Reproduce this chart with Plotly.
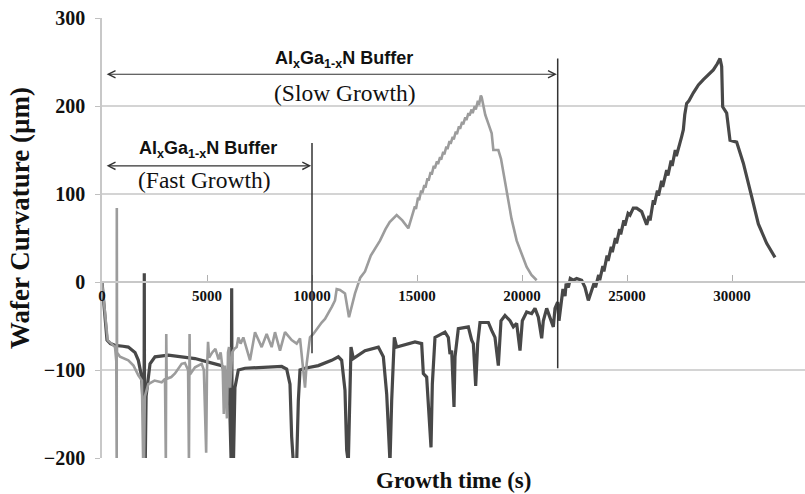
import plotly.graph_objects as go

# ---------------- data ----------------
# Fast-growth run (light grey): growth time (s), wafer curvature (um)
fast_t = [0, 60, 150, 270, 450, 620, 680, 700, 705, 715, 857, 1254, 1500, 1730, 1900, 1960, 2000, 2040,
          2206, 2500, 2841, 3000, 3040, 3060, 3080, 3300, 3476, 3794, 3950, 4100, 4140, 4170, 4190, 4429,
          4746, 4850, 4960, 5000, 5050, 5100, 5250, 5400, 5550, 5650, 5750, 5800, 5850, 5950, 6000, 6050,
          6100, 6200, 6300, 6413, 6492, 6600, 6730, 7048, 7286, 7603, 7841, 8080, 8238, 8476, 8714, 9032,
          9270, 9429, 9587, 9667, 9746, 9905, 10063, 10260, 10460, 10620, 10778, 10950, 11095, 11175, 11333,
          11571, 11762, 12048, 12300, 12524, 12800, 13000, 13238, 13500, 13700, 14032, 14300, 14587, 14800,
          14900, 14950, 15050, 15100, 15200, 15250, 15350, 15400, 15500, 15550, 15650, 15700, 15800, 15850,
          15950, 16000, 16100, 16150, 16250, 16300, 16400, 16450, 16550, 16600, 16700, 16750, 16850, 16900,
          17000, 17050, 17150, 17200, 17300, 17350, 17450, 17500, 17600, 17650, 17750, 17800, 17900, 17950,
          18040, 18079, 18150, 18250, 18397, 18556, 18635, 18873, 19000, 19270, 19500, 19746, 20000, 20222,
          20450, 20698]
fast_v = [0, -15, -40, -66, -70, -74, -90, -205, 84, -80, -85, -89, -95, -106, -112, -205, -205, -130,
          -116, -112, -114, -110, -205, -59, -110, -108, -104, -93, -92, -100, -205, -59, -105, -97,
          -93, -100, -194, -100, -68, -86, -80, -76, -88, -80, -100, -150, -95, -155, -80, -74,
          -120, -80, -76, -74, -63, -70, -63, -89, -57, -74, -59, -74, -57, -78, -57, -66,
          -70, -64, -97, -120, -93, -63, -59, -52, -46, -42, -36, -28, -21, -8, -9,
          -13, -40, -13, 5, 12, 30, 38, 47, 60, 68, 76, 70, 61, 80,
          86, 83, 96, 93, 104, 101, 110, 107, 118, 115, 125, 122, 132, 129,
          137, 134, 142, 139, 148, 145, 154, 151, 160, 157, 165, 162, 171, 168,
          177, 174, 182, 179, 187, 184, 192, 189, 196, 192, 200, 196, 206, 201,
          212, 210, 200, 190, 180, 169, 150, 150, 140, 104, 72, 47, 30, 17,
          8, 2]

# Slow-growth run (dark grey)
slow_t = [0, 60, 150, 238, 400, 619, 1000, 1254, 1571, 1730, 1889, 1980, 2000, 2014, 2030, 2060, 2100,
          2286, 2524, 3159, 3794, 4429, 5063, 5698, 5937, 6080, 6150, 6175, 6200, 6260, 6330, 6492, 6810,
          7762, 8556, 8794, 8952, 9032, 9111, 9270, 9349, 9429, 9667, 10302, 10937, 11254, 11413, 11571,
          11651, 11730, 11810, 11857, 11968, 12524, 13159, 13397, 13556, 13714, 13794, 13921, 14032, 14905,
          15222, 15302, 15460, 15667, 15730, 15857, 16333, 16492, 16571, 16651, 16762, 16810, 16968, 17444,
          17603, 17683, 17794, 17889, 18000, 18397, 18556, 18714, 18873, 19000, 19190, 19429, 19587, 19746,
          19905, 20016, 20222, 20460, 20619, 20778, 20937, 21016, 21175, 21333, 21492, 21571, 21698, 21762,
          21889, 21950, 22050, 22100, 22206, 22300, 22444, 22603, 22841, 23000, 23159, 23317, 23450, 23500,
          23650, 23700, 23850, 23900, 24050, 24100, 24250, 24300, 24450, 24500, 24650, 24700, 24850, 24900,
          25050, 25143, 25300, 25460, 25698, 25937, 26050, 26100, 26254, 26300, 26450, 26500, 26650, 26700,
          26889, 26950, 27100, 27150, 27300, 27350, 27524, 27600, 27683, 27750, 27841, 27950, 28159, 28300,
          28400, 28635, 28800, 29111, 29300, 29429, 29508, 29556, 29746, 29905, 30222, 30540, 30937, 31254,
          31651, 32048]
slow_v = [0, -15, -40, -66, -70, -72, -73, -74, -80, -89, -108, -150, -205, 10, -205, -205, -130,
          -93, -85, -83, -85, -87, -91, -95, -104, -140, -205, -7, -205, -205, -120, -100, -98,
          -97, -96, -99, -116, -176, -205, -205, -135, -100, -98, -95, -89, -85, -89, -123,
          -191, -205, -135, -74, -87, -78, -74, -85, -127, -205, -135, -63, -74, -68,
          -70, -104, -108, -188, -116, -63, -57, -63, -82, -78, -142, -85, -53, -51,
          -66, -70, -118, -70, -46, -46, -55, -63, -95, -44, -38, -44, -51, -47,
          -78, -44, -34, -36, -30, -40, -64, -44, -30, -40, -51, -30, -23, -44,
          -19, -8, -16, -2, -6, 4, 2, 4, 2, -6, -21, -10, 0, -6,
          8, 2, 18, 12, 30, 24, 40, 34, 50, 44, 60, 54, 70, 64,
          78, 76, 84, 84, 80, 65, 75, 70, 93, 88, 104, 98, 115, 108,
          127, 121, 138, 132, 150, 143, 161, 165, 173, 190, 203, 206, 215, 220,
          224, 230, 234, 241, 248, 254, 245, 199, 192, 161, 159, 135, 97, 66,
          44, 28]

# markers of the end of each buffer step (s) and label texts
buffer_end_t = [10000, 21700]
buffer_line_top = [158, 254]
buffer_line_bottom = [-81, -98]
arrow_level = [132, 236]
buffer_label = "Al<sub>x</sub>Ga<sub>1-x</sub>N Buffer"
growth_labels = ["(Fast Growth)", "(Slow Growth)"]

x_ticks = [0, 5000, 10000, 15000, 20000, 25000, 30000]
y_ticks = [-200, -100, 0, 100, 200, 300]

# ---------------- figure ----------------
fig = go.Figure()
fig.add_trace(go.Scatter(x=slow_t, y=slow_v, mode="lines",
                         line=dict(color="#484848", width=3.2), hoverinfo="skip", showlegend=False))
fig.add_trace(go.Scatter(x=fast_t, y=fast_v, mode="lines",
                         line=dict(color="#9c9c9c", width=2.6), hoverinfo="skip", showlegend=False))

serif = "Liberation Serif, Times New Roman, serif"
sans = "Liberation Sans, Arial, sans-serif"

for i in range(2):
    fig.add_shape(type="line", x0=buffer_end_t[i], x1=buffer_end_t[i],
                  y0=buffer_line_bottom[i], y1=buffer_line_top[i], xref="x", yref="y",
                  line=dict(color="#333333", width=1.5))
    fig.add_annotation(x=buffer_end_t[i] - 40, y=arrow_level[i], ax=150, ay=arrow_level[i],
                       xref="x", yref="y", axref="x", ayref="y", text="", showarrow=True,
                       arrowhead=5, startarrowhead=5, arrowside="end+start",
                       arrowsize=1.3, startarrowsize=1.3, arrowwidth=1.1, arrowcolor="#333333")

fig.add_annotation(x=5050, y=151, xref="x", yref="y", text=buffer_label, showarrow=False,
                   font=dict(family=sans, size=18, color="#111111", weight="bold"))
fig.add_annotation(x=4900, y=116, xref="x", yref="y", text=growth_labels[0], showarrow=False,
                   font=dict(family=serif, size=23.5, color="#111111"))
fig.add_annotation(x=11500, y=253, xref="x", yref="y", text=buffer_label, showarrow=False,
                   font=dict(family=sans, size=18, color="#111111", weight="bold"))
fig.add_annotation(x=11550, y=215, xref="x", yref="y", text=growth_labels[1], showarrow=False,
                   font=dict(family=serif, size=23.5, color="#111111"))

# axis titles
fig.add_annotation(x=0.5, y=-0.052, xref="paper", yref="paper", xanchor="center", yanchor="middle",
                   text="Growth time (s)", showarrow=False,
                   font=dict(family=serif, size=23, color="#111111", weight="bold"))
fig.add_annotation(x=-0.117, y=0.545, xref="paper", yref="paper", xanchor="center", yanchor="middle",
                   text="Wafer Curvature (µm)", textangle=-90, showarrow=False,
                   font=dict(family=serif, size=27, color="#111111", weight="bold"))

fig.update_layout(
    width=805, height=494,
    margin=dict(l=102, r=0, t=18, b=36),
    paper_bgcolor="white", plot_bgcolor="white",
    xaxis=dict(range=[0, 33476], tickvals=x_ticks, ticktext=[str(v) for v in x_ticks],
               anchor="free", position=0.4, showgrid=False, zeroline=False,
               showline=True, linecolor="#c8c8c8", linewidth=1.5,
               ticks="inside", ticklen=6, tickcolor="#b0b0b0", tickwidth=1.2,
               tickfont=dict(family=serif, size=15, color="#111111", weight="bold")),
    yaxis=dict(range=[-200, 300], tickvals=y_ticks, showgrid=True, gridcolor="#d4d4d4",
               gridwidth=1.5, zeroline=False, showline=True, linecolor="#c8c8c8", linewidth=1.5,
               ticks="outside", ticklen=5, tickcolor="#c0c0c0",
               ticklabelstandoff=6,
               tickfont=dict(family=serif, size=20, color="#111111", weight="bold")),
)

# remove the default 8px page margin so the figure fills the window exactly
fig.write_html("out.html", config={"displayModeBar": False},
               post_script="document.body.style.margin='0';")
